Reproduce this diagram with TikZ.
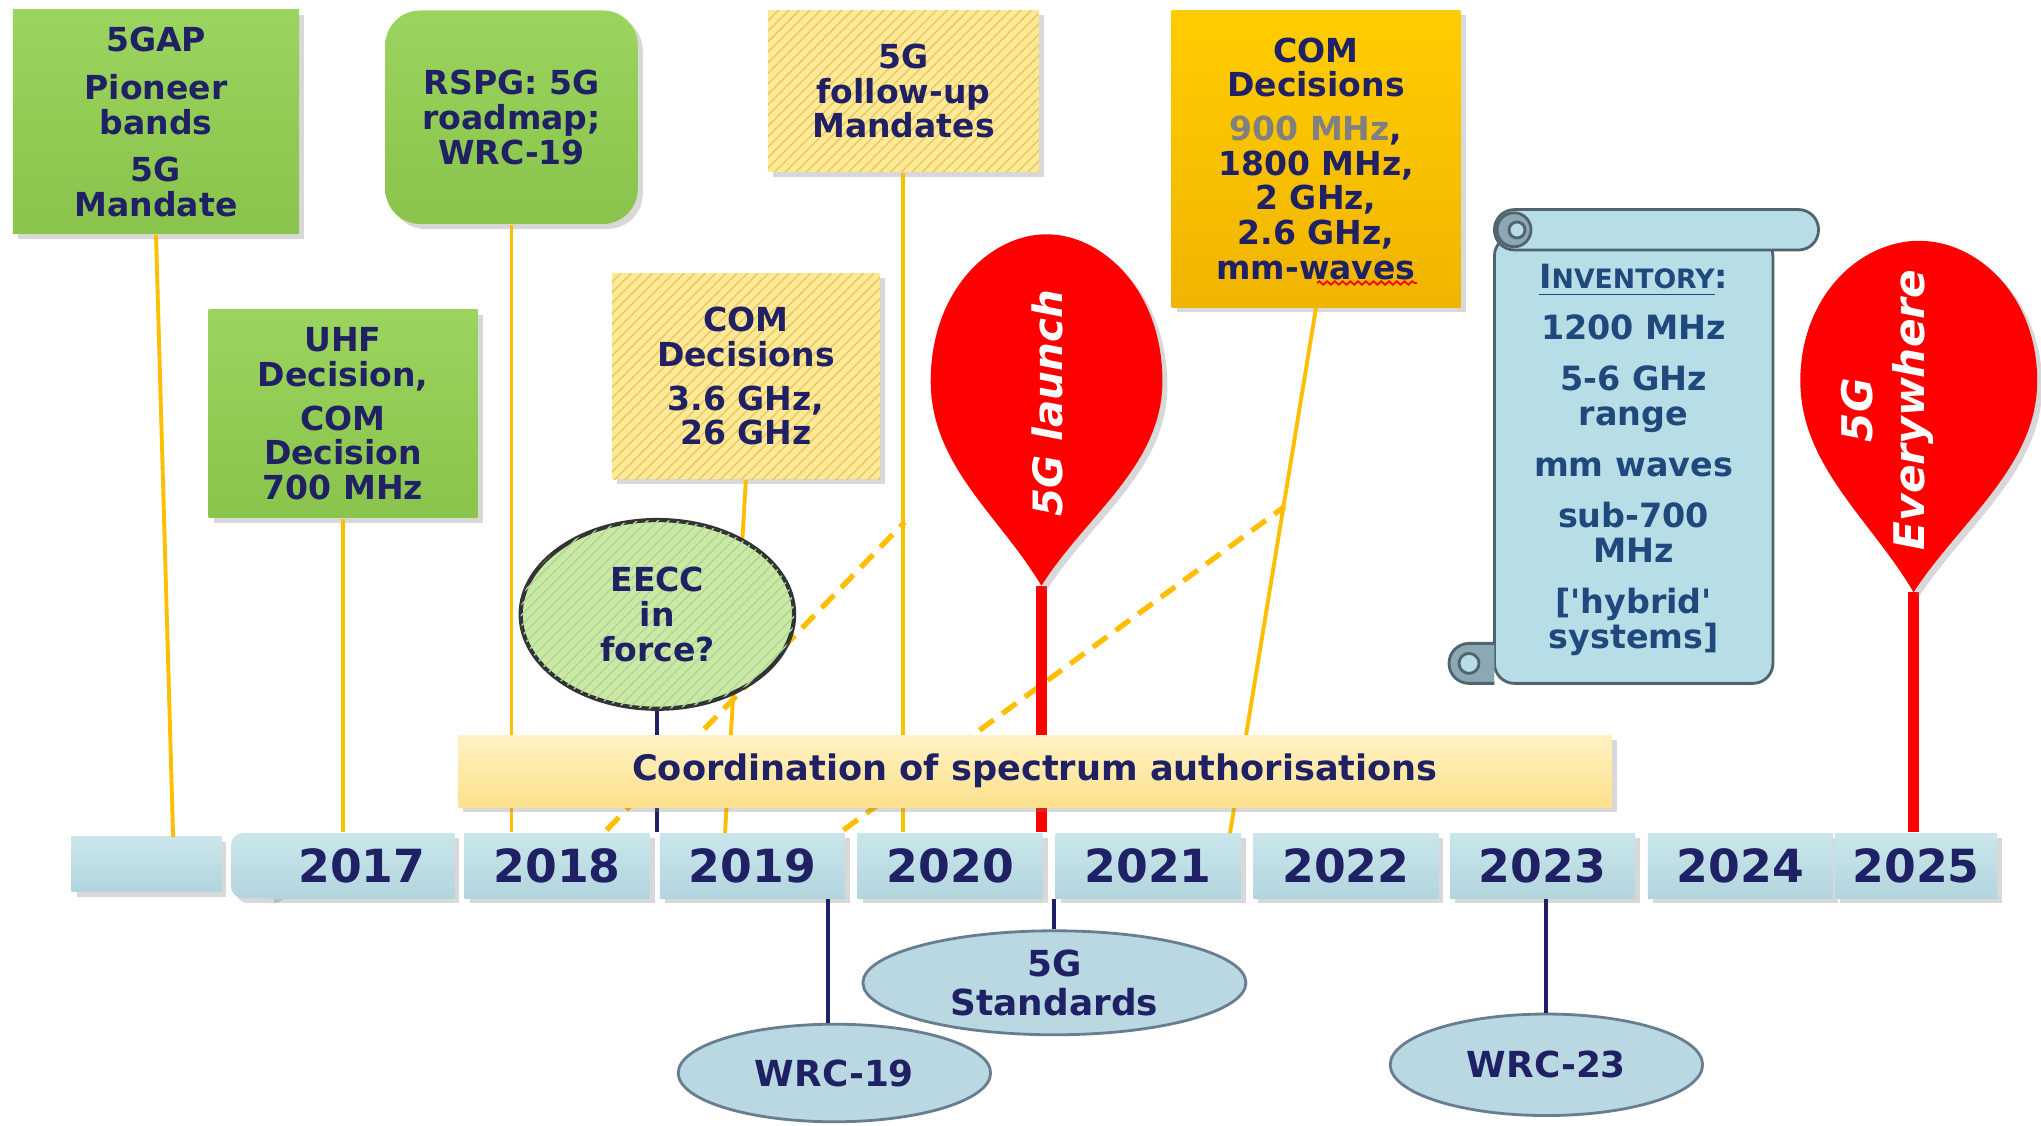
\documentclass[tikz,border=0pt]{standalone}
\usepackage{fontspec}
\setmainfont{DejaVu Sans}
\usetikzlibrary{shadows,shapes.geometric,patterns,decorations.pathmorphing}
\definecolor{navy}{RGB}{32,32,100}
\definecolor{inkblue}{RGB}{31,73,125}
\definecolor{boxgreen}{RGB}{146,208,80}
\definecolor{paleyellow}{RGB}{255,232,150}
\definecolor{hatch}{RGB}{232,202,100}
\definecolor{bartop}{RGB}{255,242,195}
\definecolor{barbot}{RGB}{252,225,140}
\definecolor{gold}{RGB}{255,192,0}
\definecolor{wire}{RGB}{255,190,0}
\definecolor{aquatop}{RGB}{202,230,236}
\definecolor{aquabot}{RGB}{178,213,221}
\definecolor{ovalblue}{RGB}{185,216,226}
\definecolor{ovaledge}{RGB}{105,125,145}
\definecolor{eeccgreen}{RGB}{205,232,160}
\definecolor{scrollblue}{RGB}{183,221,230}
\definecolor{scrolledge}{RGB}{80,100,110}
\definecolor{curlgray}{RGB}{140,168,178}
\newcommand{\cardfont}{\bfseries\fontsize{9.4}{9.9}\selectfont}
\newcommand{\yearfont}{\bfseries\fontsize{13}{14}\selectfont}
\newcommand{\ovalfont}{\bfseries\fontsize{10.2}{11}\selectfont}
\tikzstyle{softshadow} = [drop shadow={shadow xshift=0.05cm, shadow yshift=-0.05cm, opacity=0.3}]
\tikzstyle{gbox} = [rectangle, top color=boxgreen!92!white, bottom color=boxgreen!94!black,
    text=navy, align=center, font=\cardfont, inner sep=0pt, softshadow]
\tikzstyle{ybox} = [rectangle, fill=paleyellow, postaction={pattern=north east lines, pattern color=hatch},
    text=navy, align=center, font=\cardfont, inner sep=0pt, softshadow]
\tikzstyle{obox} = [rectangle, top color=gold!80!yellow, bottom color=gold!94!black,
    text=navy, align=center, font=\cardfont, inner sep=0pt, softshadow]
\tikzstyle{link} = [draw=wire, line width=1.1pt]
\tikzstyle{dashlink} = [draw=wire, line width=1.5pt, dash pattern=on 5pt off 3pt]
\tikzstyle{navylink} = [draw=navy, line width=1.1pt]
\tikzstyle{redstick} = [draw=red, line width=3pt]
\tikzstyle{balloon} = [fill=red, softshadow]
\tikzstyle{balloontext} = [rotate=90, text=white, align=center, font=\bfseries\itshape\fontsize{11.5}{15}\selectfont]
\tikzstyle{yearcell} = [rectangle, top color=aquatop, bottom color=aquabot, text=navy, font=\yearfont,
    minimum width=1.85cm, minimum height=0.651cm, inner sep=0pt, softshadow]
\tikzstyle{coordbar} = [rectangle, top color=bartop, bottom color=barbot, text=navy,
    font=\bfseries\fontsize{10}{11}\selectfont, minimum width=11.533cm, minimum height=0.716cm, softshadow]
\tikzstyle{eecc} = [ellipse, fill=eeccgreen, postaction={pattern=north east lines, pattern color=green!40!gray!50},
    draw=black!80, line width=1.2pt, text=navy, align=center, font=\cardfont, inner sep=0pt,
    minimum width=2.734cm, minimum height=1.887cm]
\tikzstyle{oval} = [ellipse, fill=ovalblue, draw=ovaledge, line width=0.8pt, text=navy, align=center,
    font=\ovalfont, inner sep=0pt]
\tikzstyle{scrollpart} = [fill=scrollblue, draw=scrolledge, line width=0.8pt]
\tikzstyle{curl} = [fill=curlgray, draw=scrolledge, line width=0.8pt]

\begin{document}
\begin{tikzpicture}[node distance = 0.5cm, auto]
      \useasboundingbox [fill=white] (0,0) rectangle (20.41,11.26);
      % cards
      \node [gbox, minimum width=2.86cm, minimum height=2.24cm] (gap) at (1.56,10.04)
            {5GAP\\[3.6pt]Pioneer\\bands\\[3.6pt]5G\\Mandate};
      \node [gbox, rounded corners=0.35cm, minimum width=2.525cm, minimum height=2.135cm] (rspg) at (5.115,10.088)
            {RSPG: 5G\\roadmap;\\WRC-19};
      \node [gbox, minimum width=2.69cm, minimum height=2.08cm] (uhf) at (3.43,7.12)
            {UHF\\Decision,\\[2.5pt]COM\\Decision\\700 MHz};
      \node [ybox, minimum width=2.68cm, minimum height=2.06cm] (com36) at (7.459,7.498)
            {COM\\Decisions\\[2.5pt]3.6 GHz,\\26 GHz};
      \node [ybox, minimum width=2.71cm, minimum height=1.615cm] (followup) at (9.034,10.349)
            {5G\\follow-up\\Mandates};
      \node [obox, minimum width=2.89cm, minimum height=2.968cm] (com900) at (13.16,9.672)
            {COM\\Decisions\\[2.5pt]{\color{gray}900 MHz},\\1800 MHz,\\2 GHz,\\2.6 GHz,\\mm-waves};
      \draw [red, line width=0.5pt, decorate, decoration={snake, amplitude=0.5pt, segment length=2.2pt}]
            (13.17,8.43) -- (14.17,8.43);
      % timeline
      \node [yearcell, minimum width=1.497cm, minimum height=0.547cm] (tblock) at (1.464,2.617) {};
      \node [yearcell, rounded corners=0.12cm, minimum width=0.5cm] (tcap) at (2.56,2.603) {};
      \node [yearcell] (y2017) at (3.619,2.603) {2017};
      \node [yearcell] (y2018) at (5.571,2.603) {2018};
      \node [yearcell] (y2019) at (7.524,2.603) {2019};
      \node [yearcell] (y2020) at (9.502,2.603) {2020};
      \node [yearcell] (y2021) at (11.481,2.603) {2021};
      \node [yearcell] (y2022) at (13.459,2.603) {2022};
      \node [yearcell] (y2023) at (15.425,2.603) {2023};
      \node [yearcell] (y2024) at (17.404,2.603) {2024};
      \node [yearcell, minimum width=1.62cm] (y2025) at (19.161,2.603) {2025};
      % ends on the timeline
      \coordinate (e-gap) at (1.731,2.89);
      \coordinate (e-com36) at (7.25,2.929);
      \coordinate (e-com900) at (12.30,2.929);
      \coordinate (d1low) at (6.066,2.96);
      \coordinate (d1top) at (9.047,6.04);
      \coordinate (d2low) at (8.435,2.96);
      \coordinate (d2top) at (12.848,6.196);
      \coordinate (tip1) at (10.414,5.402);
      \coordinate (tip2) at (19.135,5.337);
      % connectors
      \path [link] (gap.south) -- (e-gap);
      \path [link] (uhf.south) -- (uhf.south |- y2017.north);
      \path [link] (rspg.south) -- (rspg.south |- y2018.north);
      \path [link] (com36.south) -- (e-com36);
      \path [link] (followup.south) -- (followup.south |- y2020.north);
      \path [link] (com900.south) -- (e-com900);
      \path [dashlink] (d1low) -- (d1top);
      \path [dashlink] (d2low) -- (d2top);
      \path [redstick] (tip1) -- (tip1 |- y2020.north);
      \path [redstick] (tip2) -- (tip2 |- y2025.north);
      % balloons
      \path [balloon] (tip1) .. controls (10.0,6.1) and (9.307,6.6) .. (9.307,7.45)
            .. controls (9.307,8.35) and (9.9,8.917) .. (10.466,8.917)
            .. controls (11.03,8.917) and (11.624,8.35) .. (11.624,7.45)
            .. controls (11.624,6.6) and (10.85,6.1) .. (tip1) -- cycle;
      \node [balloontext] (launch) at (10.479,7.224) {5G launch};
      \path [balloon] (tip2) .. controls (18.72,6.05) and (18.003,6.6) .. (18.003,7.45)
            .. controls (18.003,8.3) and (18.6,8.852) .. (19.19,8.852)
            .. controls (19.78,8.852) and (20.372,8.3) .. (20.372,7.45)
            .. controls (20.372,6.6) and (19.6,6.05) .. (tip2) -- cycle;
      \node [balloontext, font=\bfseries\itshape\fontsize{12}{15}\selectfont] (everywhere) at (18.875,7.159) {5G\\Everywhere};
      % inventory scroll
      \draw [scrollpart, rounded corners=0.2cm] (14.944,8.9) rectangle (17.729,4.426);
      \draw [curl] (14.944,4.426) -- (14.69,4.426) arc [start angle=270, end angle=90, radius=0.2] -- (14.944,4.826);
      \draw [scrollpart] (14.69,4.626) circle (0.1);
      \draw [scrollpart, rounded corners=0.2cm] (14.944,8.76) rectangle (18.185,9.164);
      \draw [curl] (15.14,8.962) circle (0.17);
      \draw [scrollpart] (15.17,8.96) circle (0.08);
      \node [text=inkblue, align=center, font=\bfseries\fontsize{9.5}{9.9}\selectfont] (inventory) at (16.336,6.66)
            {\underline{I{\fontsize{7.6}{8}\selectfont NVENTORY}}:\\[4.6pt]1200 MHz\\[4.6pt]5-6 GHz\\range\\[4.6pt]mm waves\\[4.6pt]sub-700\\MHz\\[4.6pt]{[}\textquotesingle hybrid\textquotesingle\\systems]};
      % EECC
      \node [eecc] (eecc) at (6.574,5.116) {EECC\\in\\force?};
      \path [navylink] (eecc.south) -- (eecc.south |- y2019.north);
      % coordination
      \node [coordbar] (coord) at (10.349,3.547) {Coordination of spectrum authorisations};
      % events below
      \node [oval, minimum width=3.83cm, minimum height=1.04cm] (std) at (10.544,1.432) {5G\\Standards};
      \node [oval, minimum width=3.124cm, minimum height=0.976cm] (wrc19) at (8.344,0.53) {WRC-19};
      \node [oval, minimum width=3.124cm, minimum height=1.015cm] (wrc23) at (15.464,0.612) {WRC-23};
      \path [navylink] (std.north) -- (std.north |- y2021.south);
      \path [navylink] ([xshift=-0.06cm]wrc19.north) -- ([xshift=-0.06cm]wrc19.north |- y2019.south);
      \path [navylink] (wrc23.north) -- (wrc23.north |- y2023.south);
\end{tikzpicture}
\end{document}
